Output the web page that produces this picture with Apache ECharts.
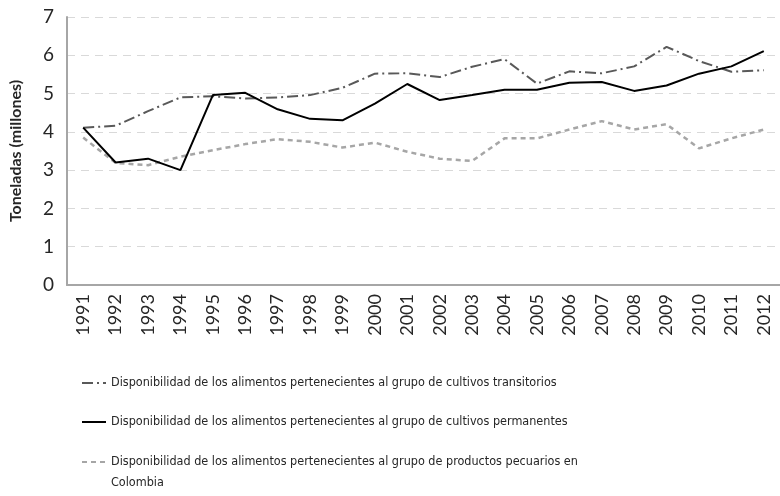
<!DOCTYPE html>
<html>
<head>
<meta charset="utf-8">
<script src="https://cdn.jsdelivr.net/npm/echarts@6/dist/echarts.min.js"></script>
<style>
  html, body { margin: 0; padding: 0; background: #fff; }
  #chart { width: 780px; height: 496px; }
</style>
</head>
<body>
<div id="chart"></div>
<script>
// años
var years = ["1991", "1992", "1993", "1994", "1995", "1996", "1997", "1998", "1999", "2000", "2001",
  "2002", "2003", "2004", "2005", "2006", "2007", "2008", "2009", "2010", "2011", "2012"];

// millones de toneladas
var transitorios = [4.11, 4.16, 4.54, 4.90, 4.93, 4.87, 4.90, 4.96, 5.15, 5.52, 5.53,
  5.43, 5.70, 5.90, 5.26, 5.58, 5.53, 5.71, 6.22, 5.85, 5.57, 5.61];
var permanentes = [4.11, 3.20, 3.30, 3.00, 4.96, 5.02, 4.59, 4.34, 4.30, 4.74, 5.25,
  4.83, 4.96, 5.10, 5.10, 5.28, 5.30, 5.07, 5.21, 5.52, 5.71, 6.11];
var pecuarios = [3.85, 3.19, 3.13, 3.35, 3.52, 3.68, 3.81, 3.74, 3.59, 3.72, 3.48,
  3.30, 3.24, 3.83, 3.83, 4.06, 4.28, 4.06, 4.20, 3.57, 3.83, 4.06];

var names = [
  "Disponibilidad de los alimentos pertenecientes al grupo de cultivos transitorios",
  "Disponibilidad de los alimentos pertenecientes al grupo de cultivos permanentes",
  "Disponibilidad de los alimentos pertenecientes al grupo de productos pecuarios en Colombia"
];

var chart = echarts.init(document.getElementById("chart"));
var legendFont = "'Liberation Sans Narrow', 'DejaVu Sans Condensed', 'Liberation Sans', sans-serif";
var axisFont = "Lato, 'DejaVu Sans', sans-serif";

// una leyenda por serie, apiladas; la tercera sigue en otra línea ("Colombia")
function legendAt(top, name) {
  return {
    orient: "vertical",
    left: 76,
    top: top,
    itemWidth: 24,
    itemHeight: 14,
    itemStyle: { opacity: 0 },
    selectedMode: false,
    data: [name],
    formatter: function (n) {
      return n.replace(" Colombia", "");
    },
    textStyle: {
      fontFamily: legendFont,
      fontSize: 12.5,
      color: "#262626",
      lineHeight: 22
    }
  };
}

var option = {
  animation: false,
  grid: { left: 66, right: -6, top: 17, bottom: 211, containLabel: false },
  legend: [
    legendAt(367, names[0]),
    legendAt(406, names[1]),
    legendAt(446, names[2])
  ],
  graphic: [{
    type: "text",
    left: 111,
    top: 476,
    style: {
      text: "Colombia",
      font: "12.5px " + legendFont,
      fill: "#262626"
    }
  }],
  xAxis: {
    type: "category",
    data: years,
    boundaryGap: true,
    axisLine: { lineStyle: { color: "#a6a6a6", width: 2 } },
    axisTick: { show: false },
    axisLabel: {
      rotate: 90,
      margin: 9,
      fontSize: 18,
      color: "#262626",
      fontFamily: axisFont,
      interval: 0
    }
  },
  yAxis: {
    type: "value",
    min: 0,
    max: 7,
    interval: 1,
    name: "Toneladas (millones)",
    nameLocation: "middle",
    nameGap: 43,
    nameTextStyle: {
      fontSize: 16,
      fontWeight: "bold",
      color: "#262626",
      fontFamily: axisFont
    },
    axisLine: { show: true, lineStyle: { color: "#a6a6a6", width: 2 } },
    axisTick: { show: false },
    splitLine: { lineStyle: { color: "#d9d9d9", type: [8, 6], width: 1.2 } },
    axisLabel: {
      margin: 13,
      fontSize: 19,
      color: "#262626",
      fontFamily: axisFont,
      padding: [6, 0, 0, 0]
    }
  },
  series: [
    {
      name: names[0],
      type: "line",
      data: transitorios,
      symbol: "none",
      z: 3,
      lineStyle: { color: "#595959", width: 2, type: [11, 4, 2, 4] },
      itemStyle: { color: "#595959" }
    },
    {
      name: names[1],
      type: "line",
      data: permanentes,
      symbol: "none",
      z: 4,
      lineStyle: { color: "#000000", width: 2 },
      itemStyle: { color: "#000000" }
    },
    {
      name: names[2],
      type: "line",
      data: pecuarios,
      symbol: "none",
      z: 2,
      lineStyle: { color: "#a6a6a6", width: 2.5, type: [5, 4] },
      itemStyle: { color: "#a6a6a6" }
    }
  ]
};

chart.setOption(option);
</script>
</body>
</html>
